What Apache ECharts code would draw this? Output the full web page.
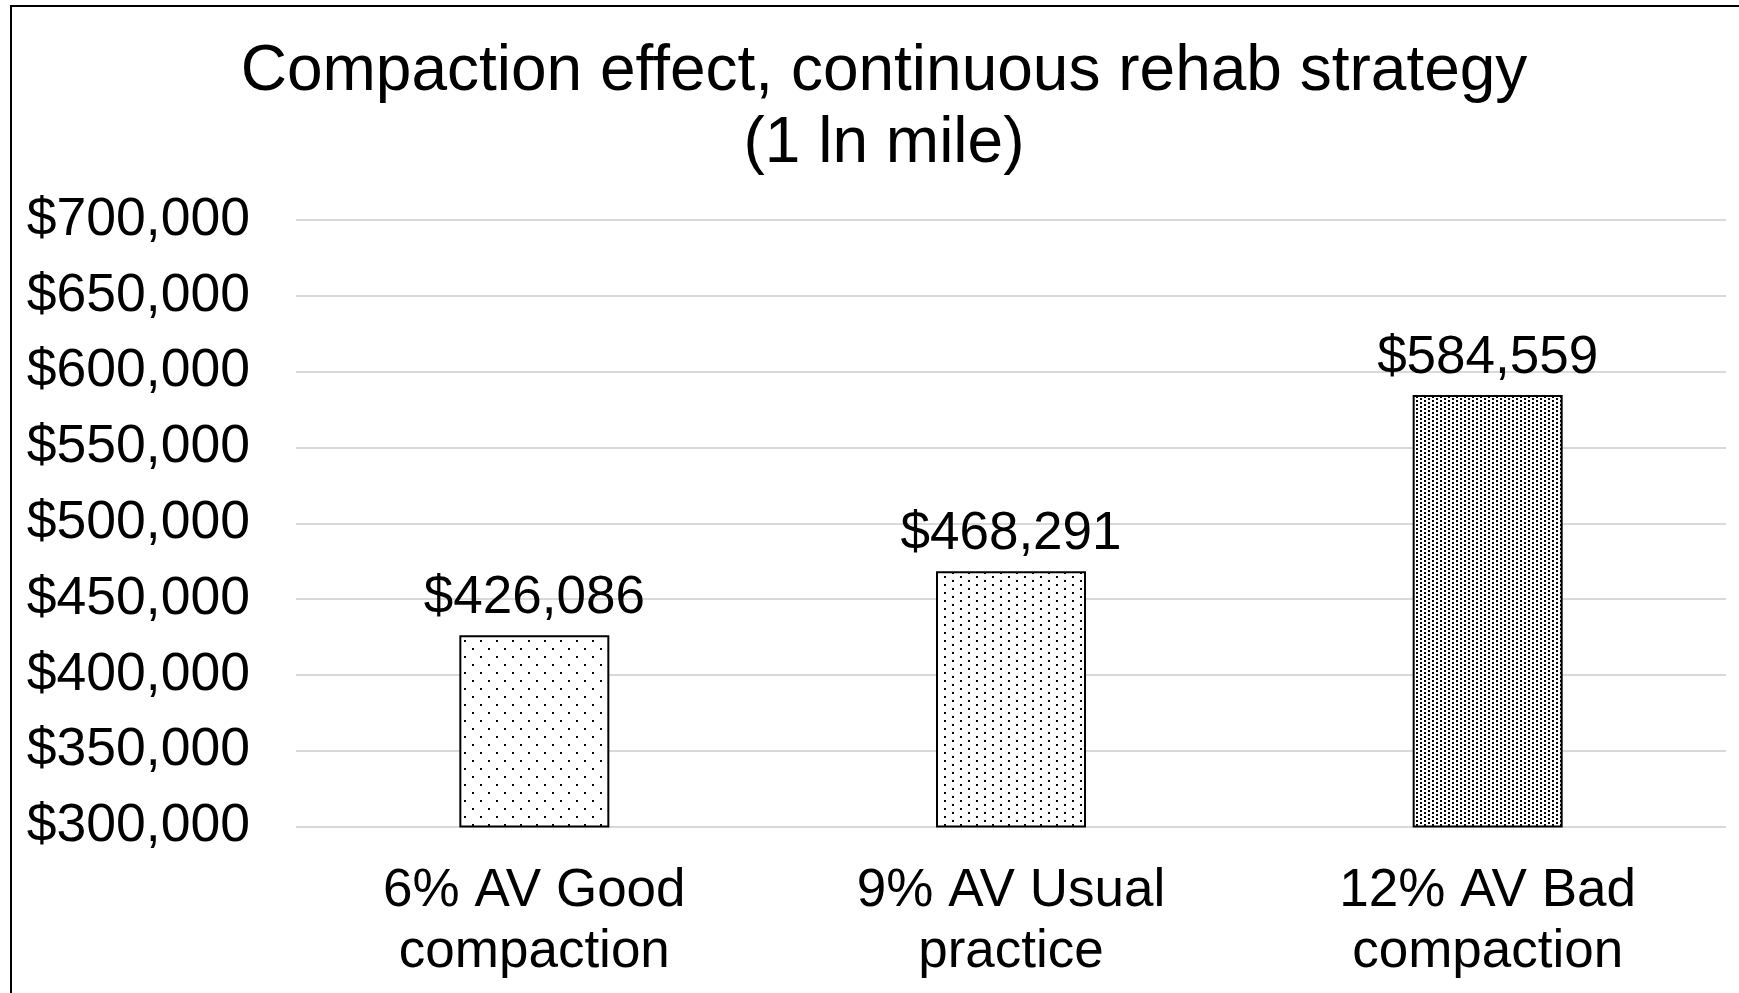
<!DOCTYPE html>
<html>
<head>
<meta charset="utf-8">
<script src="https://cdn.jsdelivr.net/npm/echarts@6/dist/echarts.min.js"></script>
<style>
html,body{margin:0;padding:0;background:#fff;}
#main{width:1739px;height:993px;}
</style>
</head>
<body>
<div id="main"></div>
<script>
const titleText = 'Compaction effect, continuous rehab strategy\n(1 ln mile)';
const categories = ['6% AV Good\ncompaction', '9% AV Usual\npractice', '12% AV Bad\ncompaction'];
const values = [426086, 468291, 584559];
const yMin = 300000, yMax = 700000, yStep = 50000;

function dotPattern(w, h, dots, size) {
  const c = document.createElement('canvas');
  c.width = w; c.height = h;
  const ctx = c.getContext('2d');
  ctx.fillStyle = '#fff';
  ctx.fillRect(0, 0, w, h);
  ctx.fillStyle = '#000';
  dots.forEach(d => ctx.fillRect(d[0], d[1], size, size));
  return c;
}
const patterns = [
  dotPattern(16, 16, [[0, 0], [8, 8]], 2),
  dotPattern(16, 8, [[0, 0], [8, 4]], 2),
  dotPattern(8, 4, [[0, 0], [4, 2]], 2)
];

const fmt = v => '$' + Math.round(v).toLocaleString('en-US');
const FONT = "'Liberation Sans', Arial, sans-serif";

const chart = echarts.init(document.getElementById('main'), null, {renderer: 'canvas'});
chart.setOption({
  animation: false,
  backgroundColor: '#fff',
  title: {
    text: titleText,
    left: 879,
    top: 31,
    textAlign: 'center',
    textStyle: {fontFamily: FONT, fontSize: 64, fontWeight: 'normal', color: '#000', lineHeight: 72}
  },
  graphic: [{
    type: 'rect', silent: true, z: 100,
    shape: {x: 11, y: 6, width: 2000, height: 2000},
    style: {fill: 'none', stroke: '#000', lineWidth: 2}
  }],
  grid: {left: 296, right: 13, top: 220, bottom: 166.5, containLabel: false},
  xAxis: {
    type: 'category',
    data: categories,
    axisLine: {show: false},
    axisTick: {show: false},
    axisLabel: {fontFamily: FONT, fontSize: 53, color: '#000', lineHeight: 61, margin: 34, interval: 0}
  },
  yAxis: {
    type: 'value',
    min: yMin, max: yMax, interval: yStep,
    axisLine: {show: false},
    axisTick: {show: false},
    splitLine: {lineStyle: {color: '#d9d9d9', width: 2}},
    axisLabel: {fontFamily: FONT, fontSize: 53.5, color: '#000', margin: 46, formatter: v => fmt(v)}
  },
  series: [{
    type: 'bar',
    barWidth: 150,
    data: values.map((v, i) => ({
      value: v,
      itemStyle: {color: {image: patterns[i], repeat: 'repeat'}, borderColor: '#000', borderWidth: 2}
    })),
    label: {
      show: true, position: 'top', distance: 10,
      fontFamily: FONT, fontSize: 53, color: '#000', lineHeight: 53,
      formatter: p => fmt(p.value)
    }
  }]
});
</script>
</body>
</html>
